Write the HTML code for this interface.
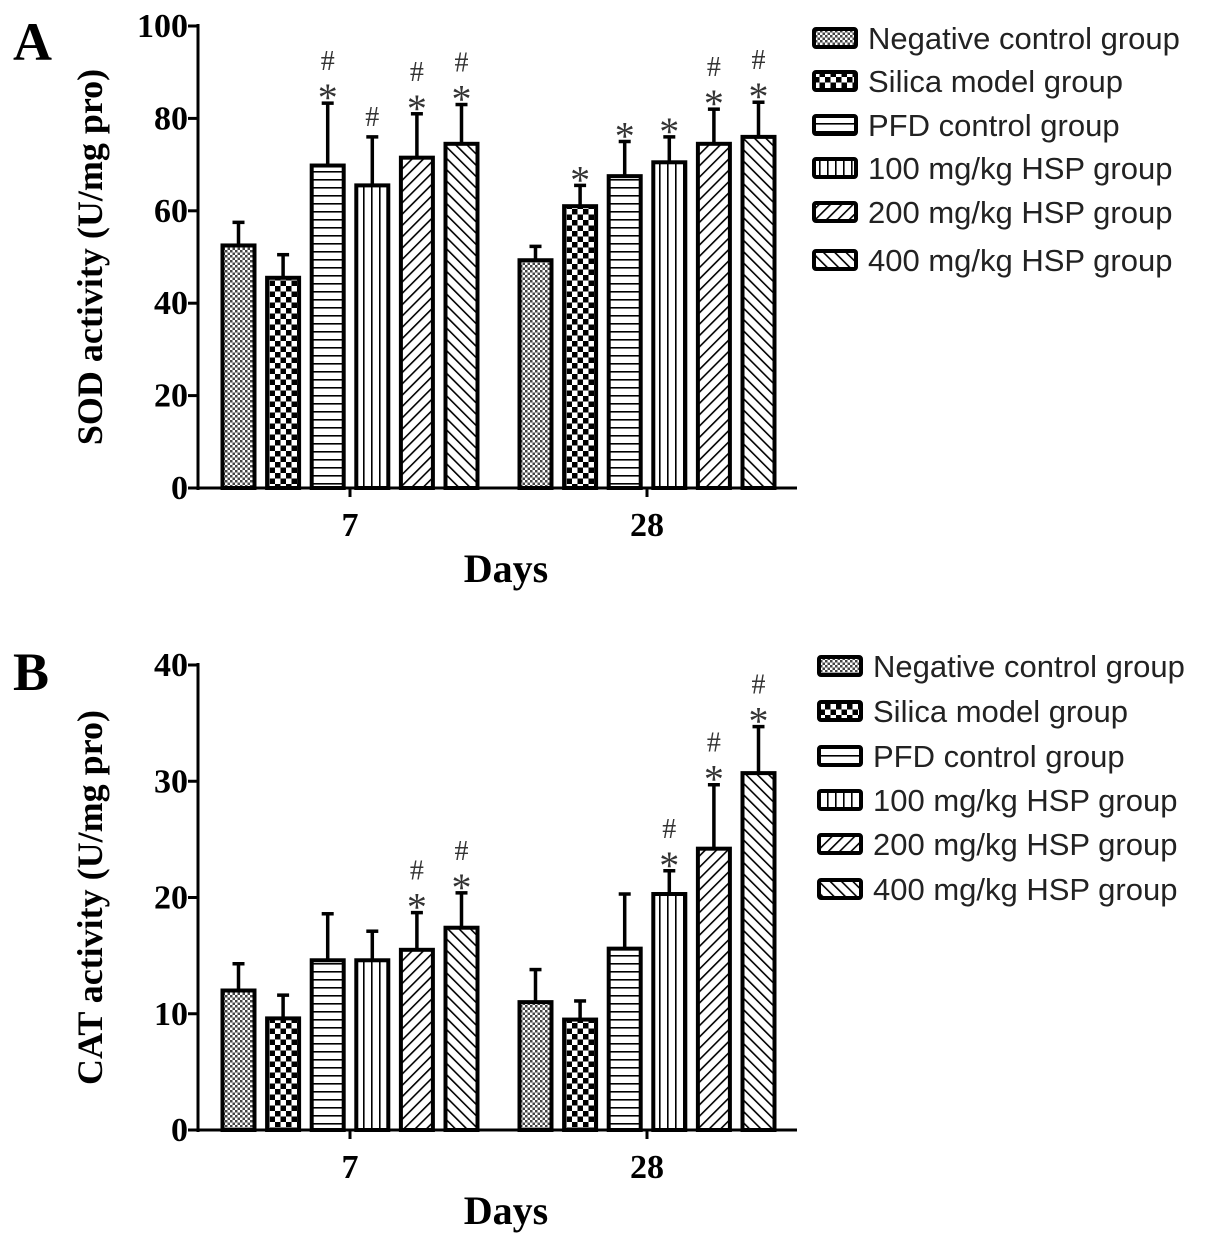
<!DOCTYPE html>
<html><head><meta charset="utf-8"><style>
html,body{margin:0;padding:0;background:#fff;}
svg text{font-family:"Liberation Serif",serif;}
.lg{font-family:"Liberation Sans",sans-serif;font-size:31px;fill:#222;}
</style></head><body>
<svg id="c" width="1205" height="1249" viewBox="0 0 1205 1249" xmlns="http://www.w3.org/2000/svg">
<defs>
<pattern id="p0" width="5" height="5" patternUnits="userSpaceOnUse"><rect width="5" height="5" fill="#fff"/><rect width="2.5" height="2.5" fill="#444"/><rect x="2.5" y="2.5" width="2.5" height="2.5" fill="#444"/></pattern>
<pattern id="p1" width="11" height="11" patternUnits="userSpaceOnUse"><rect width="11" height="11" fill="#fff"/><rect width="5.5" height="5.5" fill="#000"/><rect x="5.5" y="5.5" width="5.5" height="5.5" fill="#000"/></pattern>
<pattern id="p2" width="8" height="8" patternUnits="userSpaceOnUse"><rect width="8" height="8" fill="#fff"/><rect y="3" width="8" height="1.6" fill="#000"/></pattern>
<pattern id="p3" width="8" height="8" patternUnits="userSpaceOnUse"><rect width="8" height="8" fill="#fff"/><rect x="3" width="1.6" height="8" fill="#000"/></pattern>
<pattern id="p4" width="8" height="8" patternUnits="userSpaceOnUse" patternTransform="rotate(45)"><rect width="8" height="8" fill="#fff"/><rect x="3" width="1.6" height="8" fill="#000"/></pattern>
<pattern id="p5" width="8" height="8" patternUnits="userSpaceOnUse" patternTransform="rotate(-45)"><rect width="8" height="8" fill="#fff"/><rect x="3" width="1.6" height="8" fill="#000"/></pattern>
</defs>
</svg>
<script>
const groups = ["Negative control group","Silica model group","PFD control group","100 mg/kg HSP group","200 mg/kg HSP group","400 mg/kg HSP group"];
const days = ["7","28"];
const sodDay7 = [52.5,45.5,69.8,65.5,71.5,74.5];
const sodDay7Err = [5,5,13.5,10.5,9.5,8.5];
const sodDay28 = [49.3,61,67.5,70.5,74.5,76];
const sodDay28Err = [3,4.5,7.5,5.5,7.5,7.5];
const sodSig7 = ["","","*#","#","*#","*#"];
const sodSig28 = ["","*","*","*","*#","*#"];
const sodTicks = [0,20,40,60,80,100];
const catDay7 = [12,9.6,14.6,14.6,15.5,17.4];
const catDay7Err = [2.3,2,4,2.5,3.2,3];
const catDay28 = [11,9.5,15.6,20.3,24.2,30.7];
const catDay28Err = [2.8,1.6,4.7,2,5.5,4];
const catSig7 = ["","","","","*#","*#"];
const catSig28 = ["","","","*#","*#","*#"];
const catTicks = [0,10,20,30,40];

const svg = document.getElementById('c');
const NS = 'http://www.w3.org/2000/svg';
function mk(tag, attrs, parent, txt){
  const e = document.createElementNS(NS, tag);
  for (const k in attrs) e.setAttribute(k, attrs[k]);
  if (txt !== undefined) e.textContent = txt;
  (parent || svg).appendChild(e);
  return e;
}
function panel(o){
  const g = mk('g', {});
  
  
  const ax = 198, y0 = o.y0, y1 = o.y1, xEnd = 797;
  const y = v => y0 - (v / o.max) * (y0 - y1);
  const centers = [350, 647];
  const bw = 32, step = 44.6;
  const yl = mk('line', {x1:ax, y1:y1-2, x2:ax, y2:y0+2, stroke:'#000','stroke-width':3}, g);
  
  
  const xl = mk('line', {x1:ax-2, y1:y0, x2:xEnd, y2:y0, stroke:'#000','stroke-width':3}, g);
  
  
  o.ticks.forEach(t => {
    mk('line', {x1:ax-10, y1:y(t), x2:ax, y2:y(t), stroke:'#000','stroke-width':3}, g);
    const tl = mk('text', {x:ax-10, y:y(t)+11, 'text-anchor':'end','font-size':34,'font-weight':'bold'}, g, String(t));
    
    
  });
  days.forEach((d, di) => {
    mk('line', {x1:centers[di], y1:y0, x2:centers[di], y2:y0+9, stroke:'#000','stroke-width':3}, g);
    const xt = mk('text', {x:centers[di], y:y0+48, 'text-anchor':'middle','font-size':34,'font-weight':'bold'}, g, d);
    
    
    const vals = o.vals[di], errs = o.errs[di], sig = o.sig[di];
    vals.forEach((v, i) => {
      const cx = centers[di] + (i - 2.5) * step;
      const top = y(v), et = y(v + errs[i]);
      const eb = mk('line', {x1:cx, y1:top, x2:cx, y2:et, stroke:'#000','stroke-width':3.5}, g);
      
      
      mk('line', {x1:cx-6, y1:et, x2:cx+6, y2:et, stroke:'#000','stroke-width':3.5}, g);
      const r = mk('rect', {x:cx-bw/2, y:top, width:bw, height:y0-top, fill:'url(#p'+i+')', stroke:'#000','stroke-width':4}, g);
      
      
      const hasStar = sig[i].indexOf('*') >= 0;
      if (hasStar) {
        const s = mk('text', {x:cx, y:et+8, 'text-anchor':'middle','font-size':40,fill:'#333','font-family':'Liberation Sans'}, g, '*');
        
        
      }
      if (sig[i].indexOf('#') >= 0) {
        const h = mk('text', {x:cx, y:hasStar ? et-33 : et-11, 'text-anchor':'middle','font-size':28,fill:'#333'}, g, '#');
        
        
      }
    });
  });
  const yt = mk('text', {x:0, y:0, transform:'translate(102,'+((y0+y1)/2)+') rotate(-90)', 'text-anchor':'middle','font-size':36,'font-weight':'bold'}, g, o.ytitle);
  
  
  const xt2 = mk('text', {x:506, y:y0+94, 'text-anchor':'middle','font-size':40,'font-weight':'bold'}, g, 'Days');
  
  
  const pl = mk('text', {x:13, y:o.labelY, 'font-size':54,'font-weight':'bold'}, g, o.label);
  
  
  groups.forEach((gname, i) => {
    const ly = o.legY[i];
    const lg = mk('g', {}, g);
    
    
    mk('rect', {x:o.legX, y:ly-9, width:42, height:18, rx:2, fill:'url(#p'+i+')', stroke:'#000','stroke-width':4}, lg);
    mk('text', {x:o.legX+54, y:ly+11, class:'lg'}, lg, gname);
  });
}
panel({name:'panel-a-sod', y0:488, y1:26, max:100, ticks:sodTicks, vals:[sodDay7,sodDay28], errs:[sodDay7Err,sodDay28Err], sig:[sodSig7,sodSig28], ytitle:'SOD activity (U/mg pro)', label:'A', labelY:60, legX:814, legY:[38,81,125,168,212,260]});
panel({name:'panel-b-cat', y0:1130, y1:665, max:40, ticks:catTicks, vals:[catDay7,catDay28], errs:[catDay7Err,catDay28Err], sig:[catSig7,catSig28], ytitle:'CAT activity (U/mg pro)', label:'B', labelY:690, legX:819, legY:[666,711,756,800,844,889]});
</script>
</body></html>
